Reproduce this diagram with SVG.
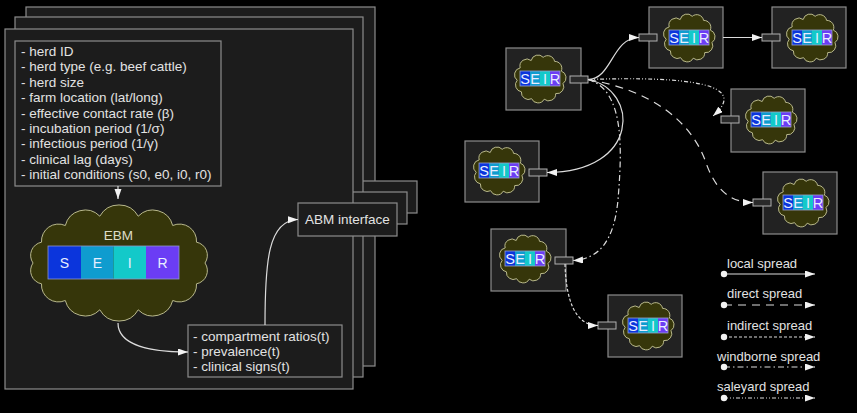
<svg xmlns="http://www.w3.org/2000/svg" xmlns:xlink="http://www.w3.org/1999/xlink" width="857" height="413" viewBox="0 0 857 413">
<style>
text{font-family:"Liberation Sans",Arial,sans-serif;fill:#e2e2e2}
.panel{fill:#1c1c1c;stroke:#8c8c8c;stroke-width:1.2}
.box{fill:#1c1c1c;stroke:#8c8c8c;stroke-width:1.2}
.nbox{fill:#222;stroke:#8c8c8c;stroke-width:1.2}
.port{fill:#2a2a2a;stroke:#b0b0b0;stroke-width:1}
.cloud{fill:#36360a;stroke:#c8c89a;stroke-width:0.9}
.t{font-size:13.5px}
.lg{font-size:13px}
.edge{fill:none;stroke:#dcdcdc;stroke-width:1.2}
.direct{stroke-dasharray:8 6}
.indirect{stroke-dasharray:3 2}
.wind{stroke-dasharray:6 3 1.5 3}
.sale{stroke-dasharray:4 2 1 2 1 2}
.cs{fill:#0b35dc}.ce{fill:#0f9ccf}.ci{fill:#13c9c9}.cr{fill:#6b3df5}
.bl{fill:#e8eeff;text-anchor:middle}
</style>
<defs>
<marker id="arr" markerUnits="userSpaceOnUse" markerWidth="11" markerHeight="8" refX="10" refY="3.5" orient="auto">
<path d="M0,0 L10,3.5 L0,7 z" fill="#f2f2f2"/>
</marker>
<marker id="dot" markerUnits="userSpaceOnUse" markerWidth="8" markerHeight="8" refX="4" refY="4" orient="auto">
<circle cx="4" cy="4" r="3.2" fill="#f2f2f2"/>
</marker>
<path id="mcloud" class="cloud" d="M6.2,27.3 A7,7 0 0 1 9.2,14.9 A7,7 0 0 1 20.2,7.5 A7,7 0 0 1 32.2,4.3 A7,7 0 0 1 43.6,8.4 A7,7 0 0 1 50.3,18.1 A7,7 0 0 1 52,30.5 A7,7 0 0 1 44.7,40.6 A7,7 0 0 1 33.2,46.2 A7,7 0 0 1 20.6,45.7 A7,7 0 0 1 10.4,38.8 A7,7 0 0 1 6.2,27.3 Z"/>
<g id="mseir">
<use xlink:href="#mcloud" href="#mcloud"/>
<rect class="cs" x="9" y="18" width="10" height="15"/>
<rect class="ce" x="19" y="18" width="10" height="15"/>
<rect class="ci" x="29" y="18" width="10" height="15"/>
<rect class="cr" x="39" y="18" width="10" height="15"/>
<rect x="9" y="18" width="40" height="15" fill="none" stroke="#9aa0c8" stroke-width="0.8"/>
<text class="bl" x="14" y="30.8" style="font-size:14.5px">S</text>
<text class="bl" x="24" y="30.8" style="font-size:14.5px">E</text>
<text class="bl" x="34" y="30.8" style="font-size:14.5px">I</text>
<text class="bl" x="44" y="30.8" style="font-size:14.5px">R</text>
</g>
</defs>
<rect width="857" height="413" fill="#000"/>

<g id="stack">
<rect class="panel" x="26" y="7" width="349" height="359"/>
<rect class="box" x="318" y="181" width="99" height="32"/>
<rect class="panel" x="15" y="17" width="348" height="360"/>
<rect class="box" x="308" y="192" width="99" height="32"/>
<rect class="panel" x="5" y="29" width="348" height="360"/>
</g>

<g id="params">
<rect class="box" x="15" y="41" width="206" height="145"/>
<text class="t" x="21" y="56">- herd ID</text>
<text class="t" x="21" y="71.4">- herd type (e.g. beef cattle)</text>
<text class="t" x="21" y="86.8">- herd size</text>
<text class="t" x="21" y="102.2">- farm location (lat/long)</text>
<text class="t" x="21" y="117.6">- effective contact rate (β)</text>
<text class="t" x="21" y="133">- incubation period (1/σ)</text>
<text class="t" x="21" y="148.4">- infectious period (1/γ)</text>
<text class="t" x="21" y="163.8">- clinical lag (days)</text>
<text class="t" x="21" y="179.2">- initial conditions (s0, e0, i0, r0)</text>
</g>

<g id="ebm">
<path class="cloud" d="M33,263 A13.4,13.4 0 0 1 41.5,242.2 A17,17 0 0 1 65.3,225.5 A20.5,20.5 0 0 1 99.8,216.2 A22,22 0 0 1 138.2,216.2 A20.5,20.5 0 0 1 172.7,225.5 A17,17 0 0 1 196.5,242.2 A13.4,13.4 0 0 1 205,263 A13.4,13.4 0 0 1 196.5,283.8 A17,17 0 0 1 172.7,300.5 A20.5,20.5 0 0 1 138.2,309.8 A22,22 0 0 1 99.8,309.8 A20.5,20.5 0 0 1 65.3,300.5 A17,17 0 0 1 41.5,283.8 A13.4,13.4 0 0 1 33,263 Z"/>
<text x="118.5" y="240" style="font-size:13.5px;fill:#dcdcc8;text-anchor:middle">EBM</text>
<rect class="cs" x="48" y="246" width="33" height="33"/>
<rect class="ce" x="81" y="246" width="32.5" height="33"/>
<rect class="ci" x="113.5" y="246" width="32.5" height="33"/>
<rect class="cr" x="146" y="246" width="33" height="33"/>
<rect x="48" y="246" width="131" height="33" fill="none" stroke="#8f96c8" stroke-width="0.8"/>
<text class="bl" x="64.5" y="268" style="font-size:14px">S</text>
<text class="bl" x="97.3" y="268" style="font-size:14px">E</text>
<text class="bl" x="129.8" y="268" style="font-size:14px">I</text>
<text class="bl" x="162.5" y="268" style="font-size:14px">R</text>
</g>

<g id="outputs">
<rect class="box" x="188" y="325" width="154" height="52"/>
<text class="t" x="193" y="341">- compartment ratios(t)</text>
<text class="t" x="193" y="356">- prevalence(t)</text>
<text class="t" x="193" y="371">- clinical signs(t)</text>
</g>

<g id="abm">
<rect class="box" x="298" y="203" width="99" height="33"/>
<text x="347.5" y="224" style="font-size:13.5px;text-anchor:middle">ABM interface</text>
</g>

<g id="node-a" transform="translate(506,48)">
<rect class="nbox" x="0" y="0" width="75" height="62"/>
<use xlink:href="#mseir" href="#mseir" x="5" y="5"/>
<rect class="port" x="64" y="28" width="18" height="7"/>
</g>
<g id="node-b" transform="translate(649,7)">
<rect class="nbox" x="0" y="0" width="74" height="61"/>
<use xlink:href="#mseir" href="#mseir" x="11" y="5"/>
<rect class="port" x="-10" y="27" width="18" height="7"/>
</g>
<g id="node-c" transform="translate(772,7)">
<rect class="nbox" x="0" y="0" width="74" height="61"/>
<use xlink:href="#mseir" href="#mseir" x="11" y="5"/>
<rect class="port" x="-10" y="27" width="18" height="7"/>
</g>
<g id="node-d" transform="translate(731,89)">
<rect class="nbox" x="0" y="0" width="74" height="63"/>
<use xlink:href="#mseir" href="#mseir" x="11" y="5"/>
<rect class="port" x="-10" y="27" width="18" height="7"/>
</g>
<g id="node-e" transform="translate(763,172)">
<rect class="nbox" x="0" y="0" width="74" height="62"/>
<use xlink:href="#mseir" href="#mseir" x="11" y="5"/>
<rect class="port" x="-10" y="27" width="18" height="7"/>
</g>
<g id="node-f" transform="translate(465,141)">
<rect class="nbox" x="0" y="0" width="74" height="61"/>
<use xlink:href="#mseir" href="#mseir" x="5" y="4"/>
<rect class="port" x="64" y="28" width="18" height="7"/>
</g>
<g id="node-g" transform="translate(491,229)">
<rect class="nbox" x="0" y="0" width="75" height="62"/>
<use xlink:href="#mseir" href="#mseir" x="5" y="4"/>
<rect class="port" x="64" y="28" width="18" height="7"/>
</g>
<g id="node-h" transform="translate(608,295)">
<rect class="nbox" x="0" y="0" width="74" height="62"/>
<use xlink:href="#mseir" href="#mseir" x="11" y="5"/>
<rect class="port" x="-10" y="27" width="18" height="7"/>
</g>

<g id="connectors">
<path class="edge" d="M118,186 L118,199" marker-end="url(#arr)"/>
<path class="edge" d="M118,323 C118,345 150,352 188,352" marker-end="url(#arr)"/>
<path class="edge" d="M265,325 C265,262 268,220 298,219.5" marker-end="url(#arr)"/>
<path class="edge" d="M588,79.5 C612,79.5 612,37.5 639,37.5" marker-end="url(#arr)"/>
<path class="edge" d="M723,37.5 L762,37.5" marker-end="url(#arr)"/>
<path class="edge" d="M588,79.5 C640,90 640,172 547,172.5" marker-end="url(#arr)"/>
<path class="edge sale" d="M588,79.5 C690,76 750,84 713,116" marker-end="url(#arr)"/>
<path class="edge direct" d="M588,79.5 C650,90 690,120 705,160 C715,190 730,202.5 753,202.5" marker-end="url(#arr)"/>
<path class="edge wind" d="M588,79.5 C625,90 622,150 618,200 C614,240 600,259 573,260.5" marker-end="url(#arr)"/>
<path class="edge indirect" d="M565,264 C566,300 575,325.5 598,325.5" marker-end="url(#arr)"/>
</g>

<g id="legend">
<text class="lg" x="727" y="268">local spread</text>
<path class="edge" d="M724,274 L815,274" marker-start="url(#dot)" marker-end="url(#arr)"/>
<text class="lg" x="727" y="298">direct spread</text>
<path class="edge direct" d="M724,305 L815,305" marker-start="url(#dot)" marker-end="url(#arr)"/>
<text class="lg" x="727" y="330">indirect spread</text>
<path class="edge indirect" d="M724,337 L815,337" marker-start="url(#dot)" marker-end="url(#arr)"/>
<text class="lg" x="717" y="361">windborne spread</text>
<path class="edge wind" d="M724,367 L815,367" marker-start="url(#dot)" marker-end="url(#arr)"/>
<text class="lg" x="717" y="391">saleyard spread</text>
<path class="edge sale" d="M724,398 L815,398" marker-start="url(#dot)" marker-end="url(#arr)"/>
</g>
</svg>
